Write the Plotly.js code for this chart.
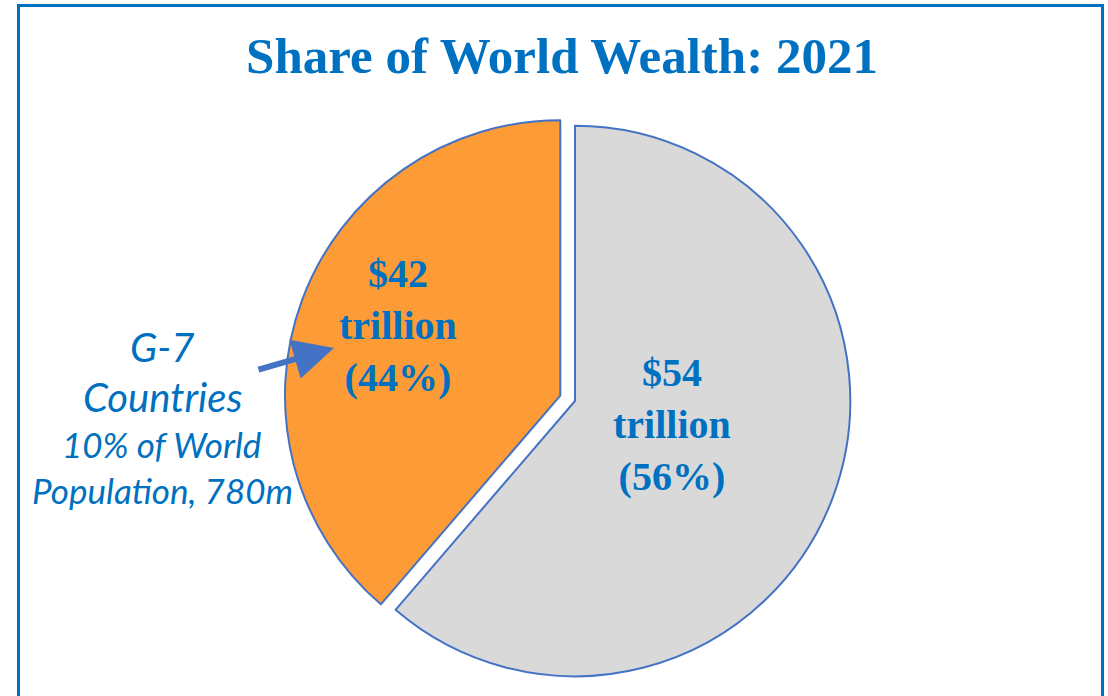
<!DOCTYPE html>
<html>
<head>
<meta charset="utf-8">
<script src="https://cdn.plot.ly/plotly-3.0.1.min.js"></script>
<style>
  html, body { margin: 0; padding: 0; background: #ffffff; }
  #chart { width: 1108px; height: 696px; }
</style>
</head>
<body>
<div id="chart"></div>
<script>
// ---- data ----
const chartTitle = 'Share of World Wealth: 2021';
const sliceNames = ['Rest of World', 'G-7 Countries'];
const wealthTrillions = [54, 42];          // labelled values ($ trillion)
const sharePct = [56, 44];                 // labelled shares (%)
const sliceAngleShare = [61.3, 38.7];      // slice sizes as drawn in the picture (% of circle)
const sliceColors = ['#d9d9d9', '#fd9b37'];
const slicePull = [0, 0.057];
const calloutLines = ['G-7', 'Countries', '10% of World', 'Population, 780m'];

// ---- helpers: pixel -> paper ----
const W = 1108, H = 696;
const px = x => x / W;
const py = y => 1 - y / H;

const blue = '#0070c0';
const edge = '#4472c4';

const trace = {
  type: 'pie',
  values: sliceAngleShare,
  labels: sliceNames,
  sort: false,
  direction: 'clockwise',
  rotation: 0,
  pull: slicePull,
  marker: { colors: sliceColors, line: { color: edge, width: 2 } },
  textinfo: 'none',
  hoverinfo: 'skip',
  showlegend: false,
  domain: { x: [px(575 - 291), px(575 + 291)], y: [py(401 + 291), py(401 - 291)] }
};

const sliceLabel = i => '$' + wealthTrillions[i] + '<br>trillion<br>(' + sharePct[i] + '%)';
const labelFont = { family: 'Liberation Serif, Times New Roman, serif', size: 40, color: blue };

const annotations = [
  { x: px(398), y: py(325), xref: 'paper', yref: 'paper', text: '<b>' + sliceLabel(1) + '</b>',
    showarrow: false, font: labelFont, xanchor: 'center', yanchor: 'middle' },
  { x: px(672), y: py(424), xref: 'paper', yref: 'paper', text: '<b>' + sliceLabel(0) + '</b>',
    showarrow: false, font: labelFont, xanchor: 'center', yanchor: 'middle' },
  // arrow
  { x: px(334), y: py(348), ax: px(257), ay: py(370), xref: 'paper', yref: 'paper', axref: 'paper', ayref: 'paper',
    text: '', showarrow: true, arrowhead: 2, arrowsize: 1.35, arrowwidth: 6, arrowcolor: edge }
];
const calloutY = [347, 397, 444, 490];
const calloutSize = [40, 40, 35, 35];
calloutLines.forEach((t, i) => {
  annotations.push({ x: px(162), y: py(calloutY[i]), xref: 'paper', yref: 'paper', text: '<i>' + t + '</i>',
    showarrow: false, xanchor: 'center', yanchor: 'middle',
    font: { family: 'Lato, Carlito, Calibri, sans-serif', size: calloutSize[i], color: blue } });
});

const layout = {
  width: W, height: H,
  margin: { l: 0, r: 0, t: 0, b: 0 },
  paper_bgcolor: '#ffffff',
  title: { text: '<b>' + chartTitle + '</b>', x: px(562), y: py(55), xanchor: 'center', yanchor: 'middle',
    font: { family: 'Liberation Serif, Times New Roman, serif', size: 51, color: blue } },
  shapes: [
    { type: 'rect', xref: 'paper', yref: 'paper', x0: px(18.5), x1: px(1102.5), y0: py(740), y1: py(5.5),
      line: { color: blue, width: 3 }, fillcolor: 'rgba(0,0,0,0)' }
  ],
  annotations: annotations
};

Plotly.newPlot('chart', [trace], layout, { staticPlot: true, displayModeBar: false });
</script>
</body>
</html>
